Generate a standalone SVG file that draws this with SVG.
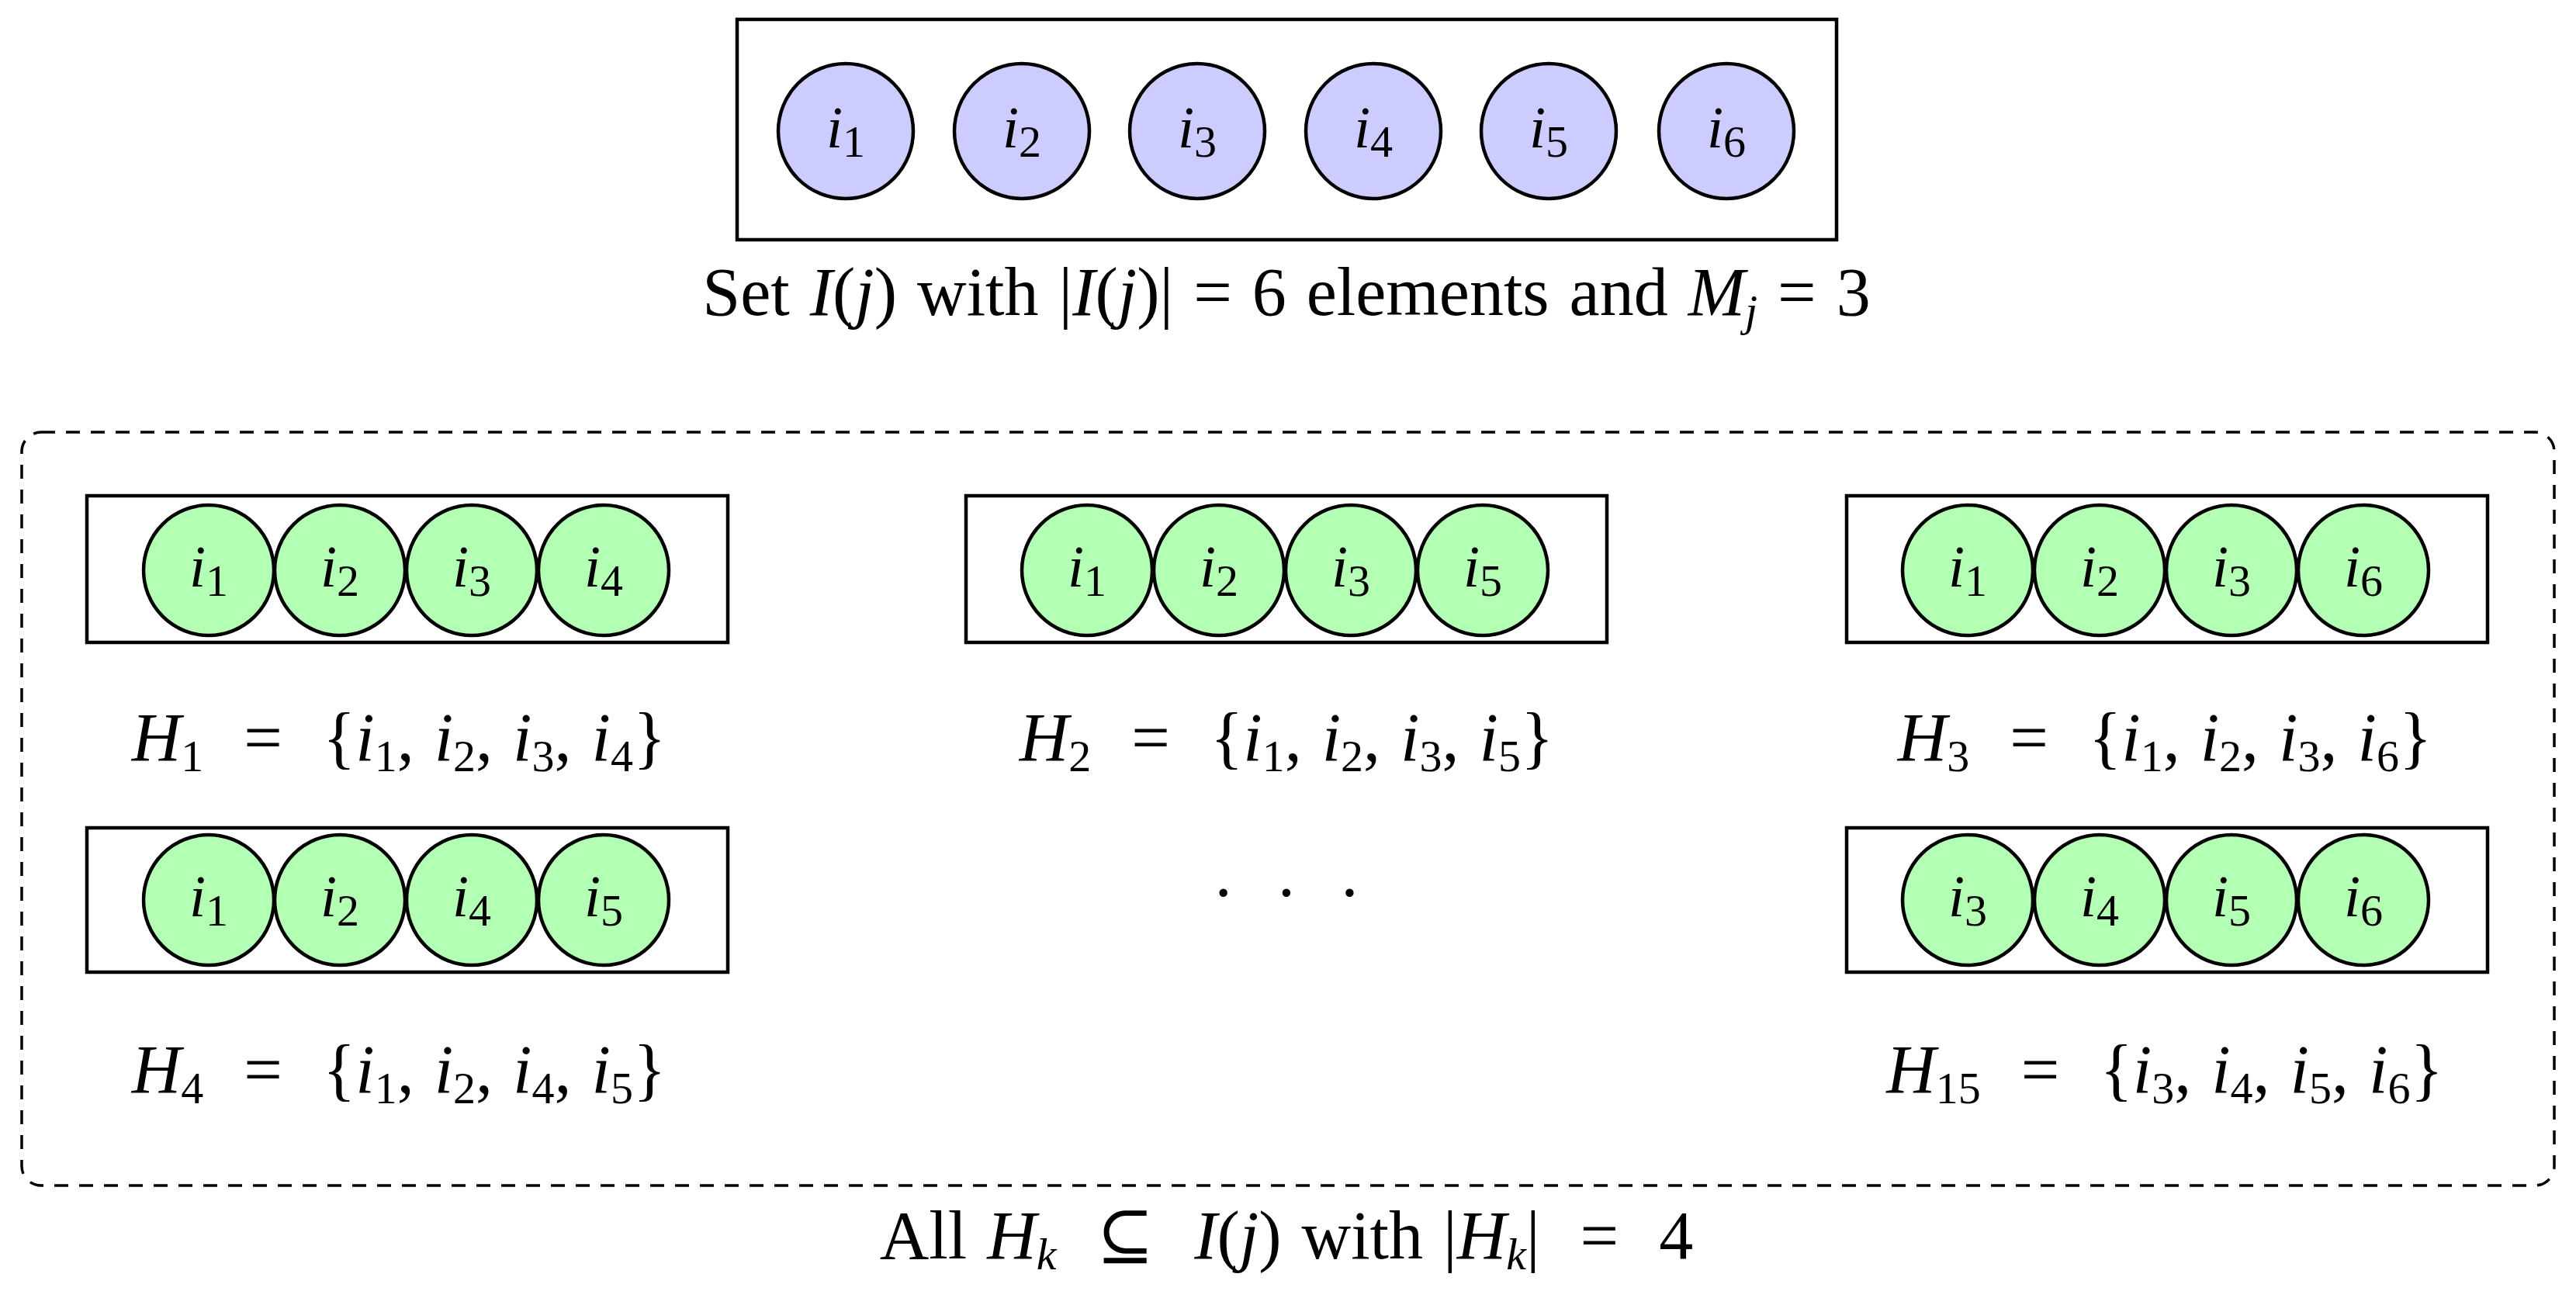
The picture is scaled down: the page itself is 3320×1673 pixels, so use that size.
<svg xmlns="http://www.w3.org/2000/svg" width="3320" height="1673" viewBox="0 0 3320 1673">
<style>
text{font-family:"Liberation Serif","DejaVu Serif",serif;fill:#000;text-anchor:middle}
.lab{font-size:88px;word-spacing:4px}
.cl{font-size:76px}
.i{font-style:italic}
.s{font-size:58px;font-style:normal}
.si{font-size:58px;font-style:italic}
.box{fill:#fff;stroke:#000;stroke-width:4.5}
.b{fill:#ccccff;stroke:#000;stroke-width:4.5}
.g{fill:#b3ffb3;stroke:#000;stroke-width:4.5}
</style>
<rect width="3320" height="1673" fill="#fff"/>
<g id="setI">
<rect class="box" x="950" y="25" width="1417" height="284"/>
<g class="cl">
<circle class="b" cx="1090" cy="169" r="87"/><text x="1090" y="190"><tspan class="i">i</tspan><tspan class="s" dy="12">1</tspan></text>
<circle class="b" cx="1317" cy="169" r="87"/><text x="1317" y="190"><tspan class="i">i</tspan><tspan class="s" dy="12">2</tspan></text>
<circle class="b" cx="1543" cy="169" r="87"/><text x="1543" y="190"><tspan class="i">i</tspan><tspan class="s" dy="12">3</tspan></text>
<circle class="b" cx="1770" cy="169" r="87"/><text x="1770" y="190"><tspan class="i">i</tspan><tspan class="s" dy="12">4</tspan></text>
<circle class="b" cx="1996" cy="169" r="87"/><text x="1996" y="190"><tspan class="i">i</tspan><tspan class="s" dy="12">5</tspan></text>
<circle class="b" cx="2225" cy="169" r="87"/><text x="2225" y="190"><tspan class="i">i</tspan><tspan class="s" dy="12">6</tspan></text>
</g>
<text class="lab" x="1658" y="406">Set <tspan class="i">I</tspan>(<tspan class="i">j</tspan>) with |<tspan class="i">I</tspan>(<tspan class="i">j</tspan>)|  =  6 elements and <tspan class="i">M</tspan><tspan class="si" dy="14">j</tspan><tspan dy="-14">  =  3</tspan></text>
</g>
<g id="all">
<rect x="28" y="557" width="3264" height="971" rx="25" fill="none" stroke="#000" stroke-width="3.5" stroke-dasharray="18,14"/>
<text class="lab" x="1658" y="1622" xml:space="preserve">All <tspan class="i">H</tspan><tspan class="si" dy="14">k</tspan><tspan dy="-14">  ⊆  </tspan><tspan class="i">I</tspan>(<tspan class="i">j</tspan>) with |<tspan class="i">H</tspan><tspan class="si" dy="14">k</tspan><tspan dy="-14">|  =  4</tspan></text>
</g>
<g id="H1">
<rect class="box" x="112" y="639" width="826" height="189"/>
<g class="cl">
<circle class="g" cx="269" cy="735" r="84"/><text x="269" y="756"><tspan class="i">i</tspan><tspan class="s" dy="12">1</tspan></text>
<circle class="g" cx="438" cy="735" r="84"/><text x="438" y="756"><tspan class="i">i</tspan><tspan class="s" dy="12">2</tspan></text>
<circle class="g" cx="608" cy="735" r="84"/><text x="608" y="756"><tspan class="i">i</tspan><tspan class="s" dy="12">3</tspan></text>
<circle class="g" cx="778" cy="735" r="84"/><text x="778" y="756"><tspan class="i">i</tspan><tspan class="s" dy="12">4</tspan></text>
</g>
<text class="lab" x="514" y="980" xml:space="preserve"><tspan class="i">H</tspan><tspan class="s" dy="14">1</tspan><tspan dy="-14">  =  {</tspan><tspan class="i">i</tspan><tspan class="s" dy="14">1</tspan><tspan dy="-14">, </tspan><tspan class="i">i</tspan><tspan class="s" dy="14">2</tspan><tspan dy="-14">, </tspan><tspan class="i">i</tspan><tspan class="s" dy="14">3</tspan><tspan dy="-14">, </tspan><tspan class="i">i</tspan><tspan class="s" dy="14">4</tspan><tspan dy="-14">}</tspan></text>
</g>
<g id="H2">
<rect class="box" x="1245" y="639" width="826" height="189"/>
<g class="cl">
<circle class="g" cx="1401" cy="735" r="84"/><text x="1401" y="756"><tspan class="i">i</tspan><tspan class="s" dy="12">1</tspan></text>
<circle class="g" cx="1571" cy="735" r="84"/><text x="1571" y="756"><tspan class="i">i</tspan><tspan class="s" dy="12">2</tspan></text>
<circle class="g" cx="1741" cy="735" r="84"/><text x="1741" y="756"><tspan class="i">i</tspan><tspan class="s" dy="12">3</tspan></text>
<circle class="g" cx="1911" cy="735" r="84"/><text x="1911" y="756"><tspan class="i">i</tspan><tspan class="s" dy="12">5</tspan></text>
</g>
<text class="lab" x="1658" y="980" xml:space="preserve"><tspan class="i">H</tspan><tspan class="s" dy="14">2</tspan><tspan dy="-14">  =  {</tspan><tspan class="i">i</tspan><tspan class="s" dy="14">1</tspan><tspan dy="-14">, </tspan><tspan class="i">i</tspan><tspan class="s" dy="14">2</tspan><tspan dy="-14">, </tspan><tspan class="i">i</tspan><tspan class="s" dy="14">3</tspan><tspan dy="-14">, </tspan><tspan class="i">i</tspan><tspan class="s" dy="14">5</tspan><tspan dy="-14">}</tspan></text>
</g>
<g id="H3">
<rect class="box" x="2380" y="639" width="826" height="189"/>
<g class="cl">
<circle class="g" cx="2536" cy="735" r="84"/><text x="2536" y="756"><tspan class="i">i</tspan><tspan class="s" dy="12">1</tspan></text>
<circle class="g" cx="2706" cy="735" r="84"/><text x="2706" y="756"><tspan class="i">i</tspan><tspan class="s" dy="12">2</tspan></text>
<circle class="g" cx="2876" cy="735" r="84"/><text x="2876" y="756"><tspan class="i">i</tspan><tspan class="s" dy="12">3</tspan></text>
<circle class="g" cx="3046" cy="735" r="84"/><text x="3046" y="756"><tspan class="i">i</tspan><tspan class="s" dy="12">6</tspan></text>
</g>
<text class="lab" x="2790" y="980" xml:space="preserve"><tspan class="i">H</tspan><tspan class="s" dy="14">3</tspan><tspan dy="-14">  =  {</tspan><tspan class="i">i</tspan><tspan class="s" dy="14">1</tspan><tspan dy="-14">, </tspan><tspan class="i">i</tspan><tspan class="s" dy="14">2</tspan><tspan dy="-14">, </tspan><tspan class="i">i</tspan><tspan class="s" dy="14">3</tspan><tspan dy="-14">, </tspan><tspan class="i">i</tspan><tspan class="s" dy="14">6</tspan><tspan dy="-14">}</tspan></text>
</g>
<g id="H4">
<rect class="box" x="112" y="1067" width="826" height="186"/>
<g class="cl">
<circle class="g" cx="269" cy="1160" r="84"/><text x="269" y="1181"><tspan class="i">i</tspan><tspan class="s" dy="12">1</tspan></text>
<circle class="g" cx="438" cy="1160" r="84"/><text x="438" y="1181"><tspan class="i">i</tspan><tspan class="s" dy="12">2</tspan></text>
<circle class="g" cx="608" cy="1160" r="84"/><text x="608" y="1181"><tspan class="i">i</tspan><tspan class="s" dy="12">4</tspan></text>
<circle class="g" cx="778" cy="1160" r="84"/><text x="778" y="1181"><tspan class="i">i</tspan><tspan class="s" dy="12">5</tspan></text>
</g>
<text class="lab" x="514" y="1408" xml:space="preserve"><tspan class="i">H</tspan><tspan class="s" dy="14">4</tspan><tspan dy="-14">  =  {</tspan><tspan class="i">i</tspan><tspan class="s" dy="14">1</tspan><tspan dy="-14">, </tspan><tspan class="i">i</tspan><tspan class="s" dy="14">2</tspan><tspan dy="-14">, </tspan><tspan class="i">i</tspan><tspan class="s" dy="14">4</tspan><tspan dy="-14">, </tspan><tspan class="i">i</tspan><tspan class="s" dy="14">5</tspan><tspan dy="-14">}</tspan></text>
</g>
<g id="dots"><text class="lab" x="1658" y="1180" xml:space="preserve">·  ·  ·</text></g>
<g id="H15">
<rect class="box" x="2380" y="1067" width="826" height="186"/>
<g class="cl">
<circle class="g" cx="2536" cy="1160" r="84"/><text x="2536" y="1181"><tspan class="i">i</tspan><tspan class="s" dy="12">3</tspan></text>
<circle class="g" cx="2706" cy="1160" r="84"/><text x="2706" y="1181"><tspan class="i">i</tspan><tspan class="s" dy="12">4</tspan></text>
<circle class="g" cx="2876" cy="1160" r="84"/><text x="2876" y="1181"><tspan class="i">i</tspan><tspan class="s" dy="12">5</tspan></text>
<circle class="g" cx="3046" cy="1160" r="84"/><text x="3046" y="1181"><tspan class="i">i</tspan><tspan class="s" dy="12">6</tspan></text>
</g>
<text class="lab" x="2790" y="1408" xml:space="preserve"><tspan class="i">H</tspan><tspan class="s" dy="14">15</tspan><tspan dy="-14">  =  {</tspan><tspan class="i">i</tspan><tspan class="s" dy="14">3</tspan><tspan dy="-14">, </tspan><tspan class="i">i</tspan><tspan class="s" dy="14">4</tspan><tspan dy="-14">, </tspan><tspan class="i">i</tspan><tspan class="s" dy="14">5</tspan><tspan dy="-14">, </tspan><tspan class="i">i</tspan><tspan class="s" dy="14">6</tspan><tspan dy="-14">}</tspan></text>
</g>
<g id="connectors"/>
</svg>
